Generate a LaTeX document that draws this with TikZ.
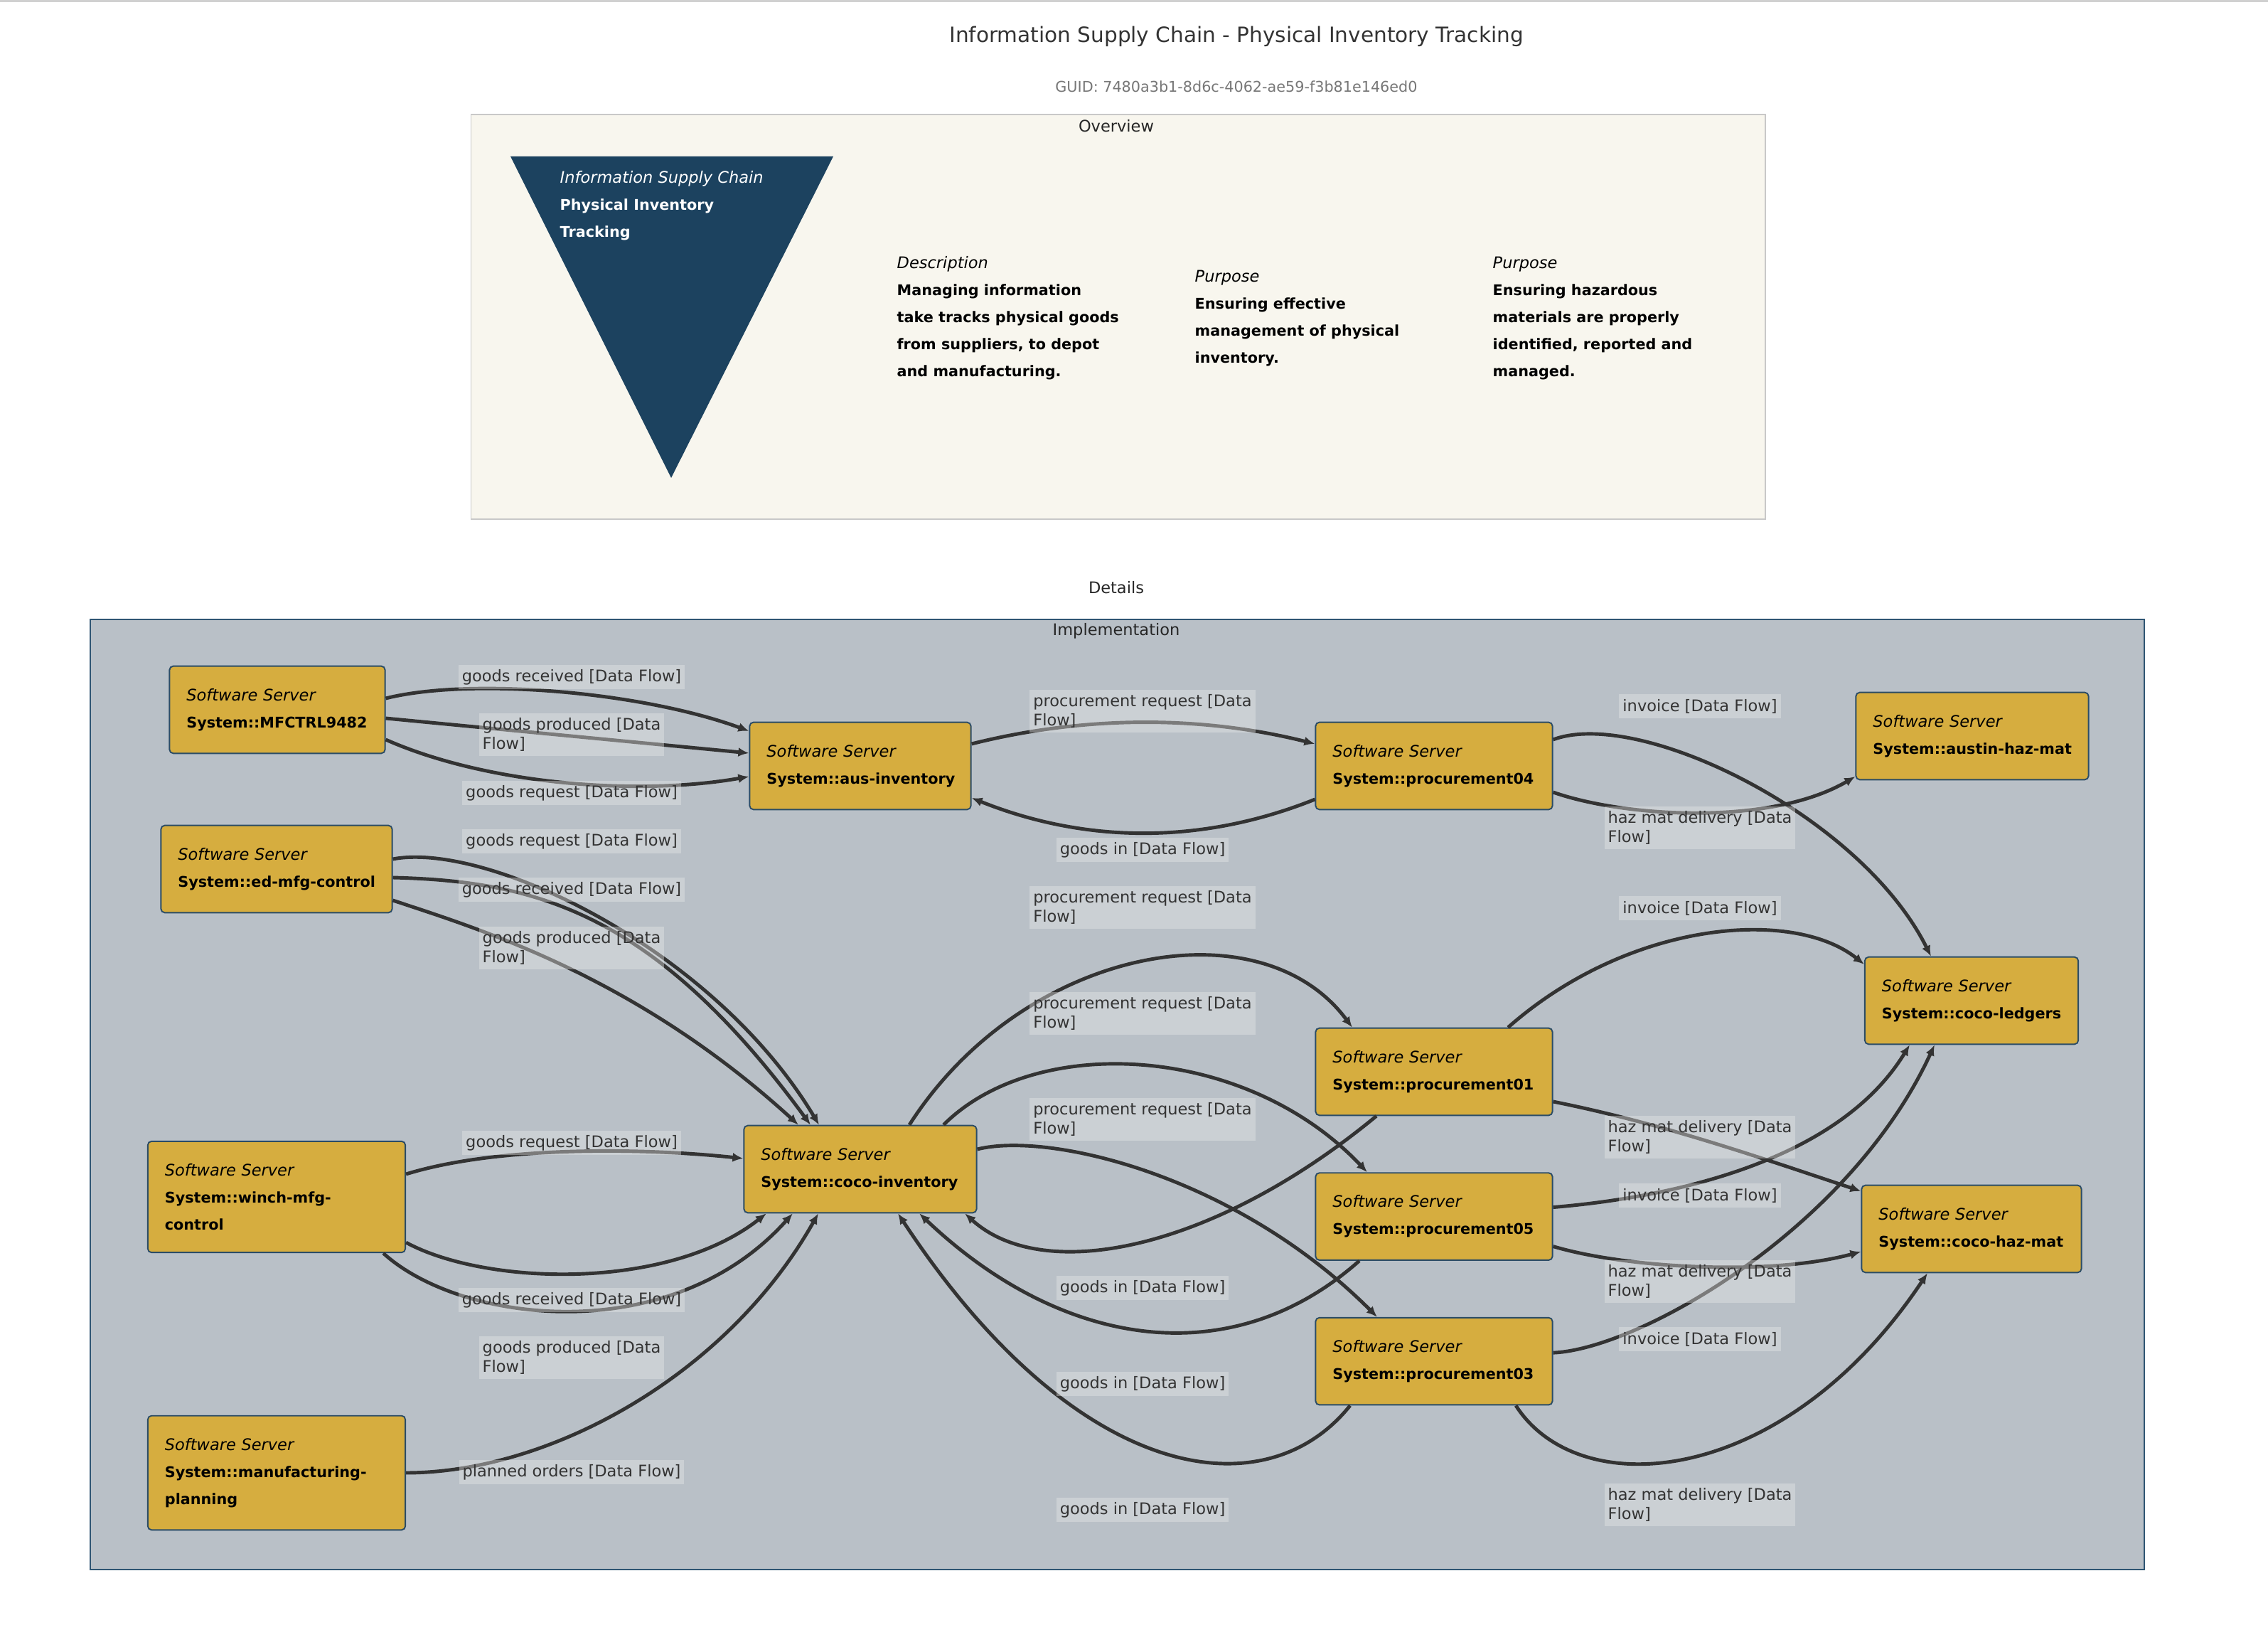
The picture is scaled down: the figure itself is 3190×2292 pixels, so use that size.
\documentclass[tikz,border=0pt]{standalone}
\usepackage{fontspec}
\setmainfont{DejaVu Sans}
\usetikzlibrary{arrows.meta,positioning}
\hyphenpenalty=10000
\exhyphenpenalty=10000

\definecolor{srvfill}{HTML}{D6AD3F}
\definecolor{srvline}{HTML}{2B4C66}
\definecolor{implfill}{HTML}{B9C0C7}
\definecolor{implline}{HTML}{2F5573}
\definecolor{ovfill}{HTML}{F8F6EE}
\definecolor{ovline}{HTML}{C8C8C8}
\definecolor{trifill}{HTML}{1C425F}
\definecolor{flowline}{HTML}{333333}
\definecolor{lblfill}{HTML}{E8E8E8}
\definecolor{guidtext}{HTML}{777777}
\definecolor{topline}{HTML}{D0D0D0}

\newcommand{\srvtext}[1]{\textit{Software Server}\\\textbf{\fontsize{5.9}{10.8}\selectfont #1}}
\newcommand{\ovhead}[1]{{\fontsize{6.4}{10.8}\selectfont\mdseries\itshape #1}}

\begin{document}
\begin{tikzpicture}[x=0.01cm, y=-0.01cm,
    server/.style={rectangle, draw=srvline, line width=0.55pt, fill=srvfill, rounded corners=1.5pt, align=left, inner xsep=0.24cm, inner ysep=0.315cm, font=\fontsize{6.4}{10.8}\selectfont, text=black},
    flow/.style={-{Latex[length=0.15cm,width=0.13cm]}, line width=1.4pt, draw=flowline},
    flowlabel/.style={fill=lblfill, fill opacity=0.4, text opacity=1, text=flowline, align=left, inner xsep=0.05cm, inner ysep=0.065cm, font=\fontsize{6.4}{7.7}\selectfont},
    frame/.style={rectangle, line width=0.55pt, inner sep=0pt},
    frametitle/.style={font=\fontsize{6.4}{7.7}\selectfont, text=black!85},
    overtext/.style={align=left, anchor=north west, inner sep=0pt, font=\fontsize{5.9}{10.8}\selectfont\bfseries}
]
\useasboundingbox (0,0) rectangle (3190,2292);
\fill[topline] (0,0) rectangle (3190,3);

\node[font=\fontsize{8.4}{10}\selectfont, text=flowline] (title) at (1739,51) {Information Supply Chain - Physical Inventory Tracking};
\node[font=\fontsize{5.9}{7}\selectfont, text=guidtext] (guid) at (1739,122) {GUID: 7480a3b1-8d6c-4062-ae59-f3b81e146ed0};

\node[frame, fill=ovfill, draw=ovline, minimum width=18.19cm, minimum height=5.69cm] (overview) at (1572.5,445.5) {};
\node[frametitle] (ovtitle) at (1570,177) {Overview};
\fill[trifill] (718,220) -- (1172,220) -- (944,672) -- cycle;
\node[overtext, text=white] (pittext) at (787,240) {\ovhead{Information Supply Chain}\\Physical Inventory\\Tracking};
\node[overtext] (desc) at (1261,360) {\ovhead{Description}\\Managing information\\take tracks physical goods\\from suppliers, to depot\\and manufacturing.};
\node[overtext] (purpose1) at (1680,379) {\ovhead{Purpose}\\Ensuring effective\\management of physical\\inventory.};
\node[overtext] (purpose2) at (2099,360) {\ovhead{Purpose}\\Ensuring hazardous\\materials are properly\\identified, reported and\\managed.};

\node[frametitle] (details) at (1570,826) {Details};
\node[frame, fill=implfill, draw=implline, minimum width=28.87cm, minimum height=13.36cm] (impl) at (1571.5,1539) {};
\node[frametitle] (impltitle) at (1570,887) {Implementation};

\node[server, text width=2.55cm] (mfctrl) at (390,998) {\srvtext{System::MFCTRL9482}};
\node[server, text width=2.77cm] (edmfg) at (389,1222) {\srvtext{System::ed-mfg-control}};
\node[server, text width=3.14cm] (winch) at (389,1683) {\srvtext{System::winch-mfg-\\control}};
\node[server, text width=3.14cm] (mfgplan) at (389,2071) {\srvtext{System::manufacturing-\\planning}};
\node[server, text width=2.63cm] (ausinv) at (1210,1077) {\srvtext{System::aus-inventory}};
\node[server, text width=2.79cm] (cocoinv) at (1210,1644) {\srvtext{System::coco-inventory}};
\node[server, text width=2.85cm] (proc04) at (2017,1077) {\srvtext{System::procurement04}};
\node[server, text width=2.85cm] (proc01) at (2017,1507) {\srvtext{System::procurement01}};
\node[server, text width=2.85cm, below=0.79cm of proc01] (proc05) {\srvtext{System::procurement05}};
\node[server, text width=2.85cm, below=0.79cm of proc05] (proc03) {\srvtext{System::procurement03}};
\node[server, text width=2.79cm] (austin) at (2774,1035) {\srvtext{System::austin-haz-mat}};
\node[server, text width=2.52cm] (ledgers) at (2773,1407) {\srvtext{System::coco-ledgers}};
\node[server, text width=2.61cm] (hazmat) at (2773,1728) {\srvtext{System::coco-haz-mat}};

\draw[flow] ([yshift=0.16cm]mfctrl.east) .. controls +(120,-30) and +(-150,-55) .. ([yshift=0.49cm]ausinv.west);
\draw[flow] ([yshift=-0.12cm]mfctrl.east) -- ([yshift=0.18cm]ausinv.west);
\draw[flow] ([yshift=-0.42cm]mfctrl.east) .. controls +(140,62) and +(-160,28) .. ([yshift=-0.15cm]ausinv.west);
\draw[flow] ([yshift=0.31cm]ausinv.east) .. controls +(160,-40) and +(-160,-40) .. ([yshift=0.31cm]proc04.west);
\draw[flow] ([yshift=-0.47cm]proc04.west) .. controls +(-160,64) and +(160,64) .. ([yshift=-0.45cm]ausinv.east);
\draw[flow] ([yshift=0.37cm]proc04.east) .. controls +(120,-45) and +(-100,-200) .. ([xshift=-0.57cm]ledgers.north);
\draw[flow] ([yshift=-0.37cm]proc04.east) .. controls +(100,35) and +(-120,70) .. ([yshift=-0.57cm]austin.west);

\draw[flow] ([yshift=0.14cm]edmfg.east) .. controls +(130,-25) and +(-150,-250) .. ([xshift=-0.58cm]cocoinv.north);
\draw[flow] ([yshift=-0.12cm]edmfg.east) .. controls +(200,5) and +(-220,-300) .. ([xshift=-0.70cm]cocoinv.north);
\draw[flow] ([yshift=-0.44cm]edmfg.east) .. controls +(120,40) and +(-230,-210) .. ([xshift=-0.87cm]cocoinv.north);
\draw[flow] ([yshift=0.32cm]winch.east) .. controls +(130,-40) and +(-140,-15) .. ([yshift=0.15cm]cocoinv.west);
\draw[flow] ([yshift=-0.64cm]winch.east) .. controls +(110,60) and +(-140,110) .. ([xshift=-1.32cm]cocoinv.south);
\draw[flow] ([xshift=1.50cm]winch.south) .. controls +(110,100) and +(-170,190) .. ([xshift=-0.95cm]cocoinv.south);
\draw[flow] (mfgplan.east) .. controls +(200,0) and +(-130,230) .. ([xshift=-0.59cm]cocoinv.south);

\draw[flow] ([xshift=0.69cm]cocoinv.north) .. controls +(160,-250) and +(-130,-175) .. ([xshift=-1.15cm]proc01.north);
\draw[flow] ([xshift=1.17cm]cocoinv.north) .. controls +(130,-130) and +(-170,-180) .. ([xshift=-0.94cm]proc05.north);
\draw[flow] ([yshift=0.28cm]cocoinv.east) .. controls +(100,-25) and +(-200,-200) .. ([xshift=-0.80cm]proc03.north);
\draw[flow] ([xshift=-0.81cm]proc01.south) .. controls +(-230,190) and +(110,100) .. ([xshift=1.47cm]cocoinv.south);
\draw[flow] ([xshift=-1.05cm]proc05.south) .. controls +(-180,160) and +(200,190) .. ([xshift=0.83cm]cocoinv.south);
\draw[flow] ([xshift=-1.18cm]proc03.south) .. controls +(-120,150) and +(250,380) .. ([xshift=0.53cm]cocoinv.south);

\draw[flow] ([xshift=1.04cm]proc01.north) .. controls +(170,-150) and +(-100,-80) .. ([yshift=0.51cm]ledgers.west);
\draw[flow] ([yshift=-0.42cm]proc01.east) .. controls +(150,30) and +(-150,-50) .. ([yshift=0.53cm]hazmat.west);
\draw[flow] ([yshift=0.13cm]proc05.east) .. controls +(120,-10) and +(-110,180) .. ([xshift=-0.87cm]ledgers.south);
\draw[flow] ([yshift=-0.42cm]proc05.east) .. controls +(100,30) and +(-130,35) .. ([yshift=-0.32cm]hazmat.west);
\draw[flow] ([yshift=0.12cm]proc03.east) .. controls +(120,-5) and +(-120,260) .. ([xshift=-0.52cm]ledgers.south);
\draw[flow] ([xshift=1.15cm]proc03.south) .. controls +(90,140) and +(-200,300) .. ([xshift=-0.62cm]hazmat.south);

\node[flowlabel] (lrecv1) at (804,952) {goods received [Data Flow]};
\node[flowlabel] (lprod1) at (804,1033) {goods produced [Data\\Flow]};
\node[flowlabel] (lreq1) at (804,1115) {goods request [Data Flow]};
\node[flowlabel] (lreq2) at (804,1183) {goods request [Data Flow]};
\node[flowlabel] (lrecv2) at (804,1251) {goods received [Data Flow]};
\node[flowlabel] (lprod2) at (804,1333) {goods produced [Data\\Flow]};
\node[flowlabel] (lreq3) at (804,1607) {goods request [Data Flow]};
\node[flowlabel] (lrecv3) at (804,1828) {goods received [Data Flow]};
\node[flowlabel] (lprod3) at (804,1909) {goods produced [Data\\Flow]};
\node[flowlabel] (lplan) at (804,2070) {planned orders [Data Flow]};

\node[flowlabel] (lproc1) at (1607,1000) {procurement request [Data\\Flow]};
\node[flowlabel] (lgin1) at (1607,1195) {goods in [Data Flow]};
\node[flowlabel] (lproc2) at (1607,1276) {procurement request [Data\\Flow]};
\node[flowlabel] (lproc3) at (1607,1425) {procurement request [Data\\Flow]};
\node[flowlabel] (lproc4) at (1607,1574) {procurement request [Data\\Flow]};
\node[flowlabel] (lgin2) at (1607,1811) {goods in [Data Flow]};
\node[flowlabel] (lgin3) at (1607,1946) {goods in [Data Flow]};
\node[flowlabel] (lgin4) at (1607,2123) {goods in [Data Flow]};

\node[flowlabel] (linv1) at (2391,993) {invoice [Data Flow]};
\node[flowlabel] (lhaz1) at (2391,1164) {haz mat delivery [Data\\Flow]};
\node[flowlabel] (linv2) at (2391,1277) {invoice [Data Flow]};
\node[flowlabel] (lhaz2) at (2391,1599) {haz mat delivery [Data\\Flow]};
\node[flowlabel] (linv3) at (2391,1681) {invoice [Data Flow]};
\node[flowlabel] (lhaz3) at (2391,1802) {haz mat delivery [Data\\Flow]};
\node[flowlabel] (linv4) at (2391,1883) {invoice [Data Flow]};
\node[flowlabel] (lhaz4) at (2391,2116) {haz mat delivery [Data\\Flow]};
\end{tikzpicture}
\end{document}
